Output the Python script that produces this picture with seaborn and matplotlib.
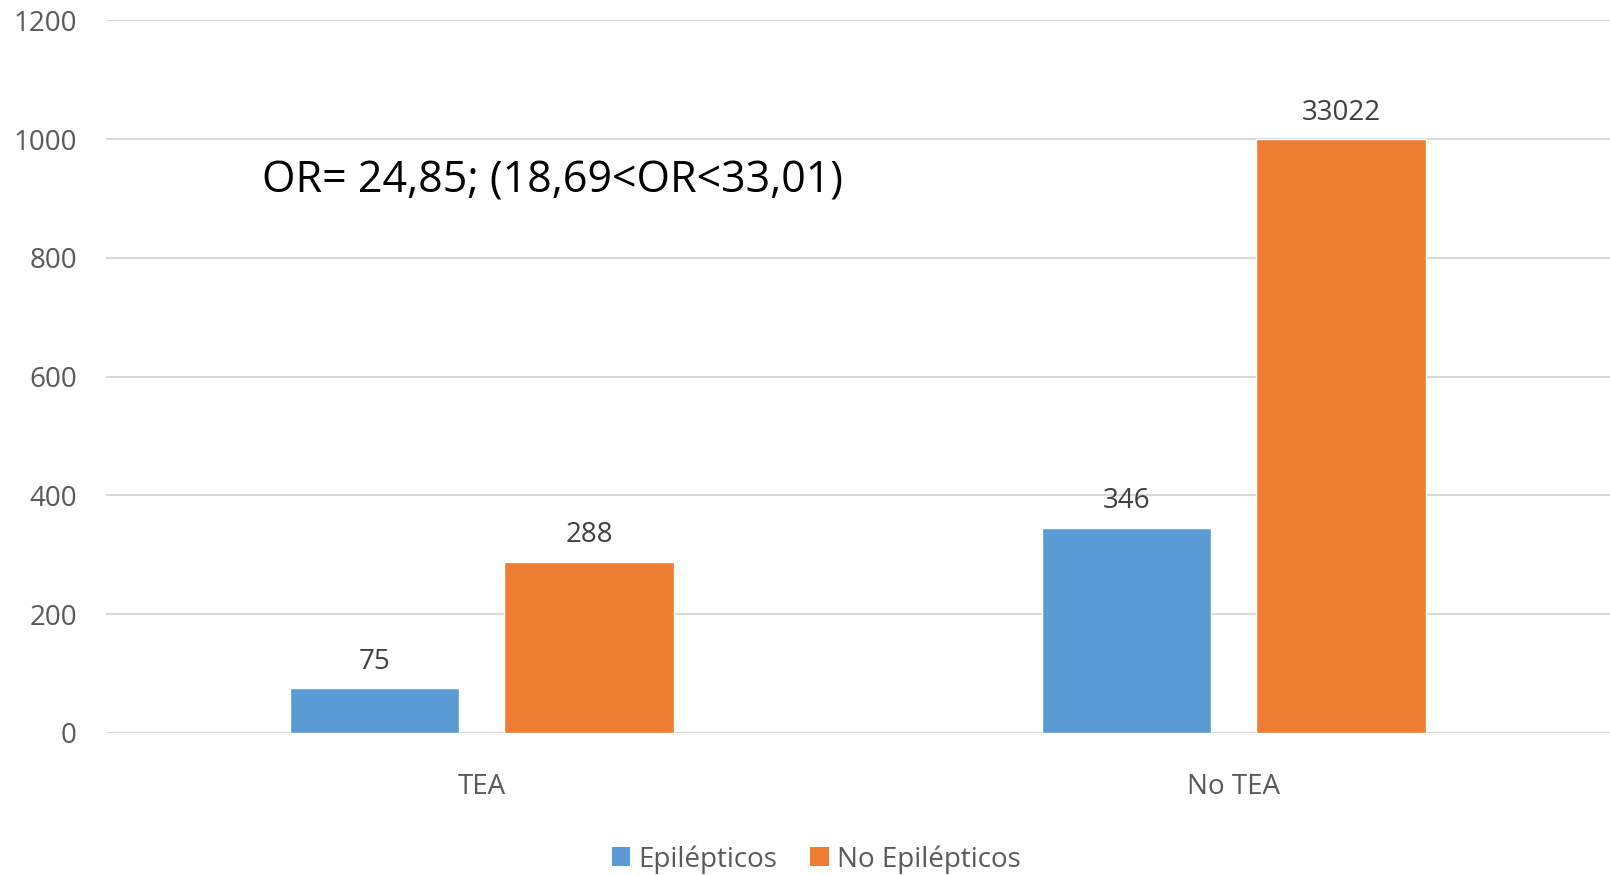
import numpy as np
import pandas as pd
import matplotlib
matplotlib.use("Agg")
import matplotlib.pyplot as plt
import seaborn as sns

categories = ["TEA", "No TEA"]
series = ["Epilépticos", "No Epilépticos"]
epilepticos = [75, 346]
no_epilepticos = [288, 33022]
axis_cap = 1000  # bars exceeding the cap are drawn truncated at the cap
yticks = [0, 200, 400, 600, 800, 1000, 1200]
annotation = "OR= 24,85; (18,69<OR<33,01)"
colors = ["#5B9BD5", "#ED7D31"]

sns.set_theme(style="white")
plt.rcParams['font.family'] = ['Open Sans', 'DejaVu Sans']

rows = []
for s, vals in zip(series, [epilepticos, no_epilepticos]):
    for c, v in zip(categories, vals):
        rows.append({"cat": c, "serie": s, "count": v, "height": min(v, axis_cap)})
df = pd.DataFrame(rows)

fig = plt.figure(figsize=(16.1, 8.75), dpi=100)
ax = fig.add_axes([0.0658, 0.1623, 0.9342, 0.8143])

sns.barplot(data=df, x="cat", y="height", hue="serie", order=categories,
            hue_order=series, palette=colors, width=0.57, gap=0.21,
            saturation=1, ax=ax, legend=False, errorbar=None)

ax.set_ylim(0, 1200)
ax.set_xlim(-0.5, 1.5)
ax.set_yticks(yticks)
ax.set_yticklabels([str(t) for t in yticks])
ax.grid(axis="y", color="#D9D9D9", linewidth=1.5)
ax.set_axisbelow(True)
for sp in ax.spines.values():
    sp.set_visible(False)
ax.tick_params(axis="y", length=0, pad=21, labelsize=20, labelcolor="#595959")
ax.tick_params(axis="x", length=0, pad=28.5, labelsize=20, labelcolor="#595959")
ax.set_xlabel("")
ax.set_ylabel("")

for cont, vals in zip(ax.containers, [epilepticos, no_epilepticos]):
    ax.bar_label(cont, labels=[str(v) for v in vals], padding=9,
                 fontsize=20, color="#404040")

fig.text(0.163, 0.7925, annotation, fontsize=31, color="black",
         ha="left", va="center")

from matplotlib.patches import Patch
handles = [Patch(facecolor=c, edgecolor="none") for c in colors]
fig.legend(handles, series, loc="center", bbox_to_anchor=(0.507, 0.018),
           ncol=2, frameon=False, fontsize=20, handlelength=0.65,
           handleheight=0.65, handletextpad=0.3, columnspacing=1.2,
           labelcolor="#595959")

fig.savefig("out.png", dpi=100, facecolor="white")
